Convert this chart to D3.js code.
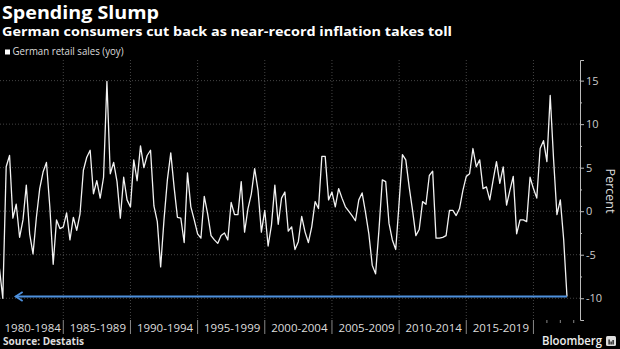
<!DOCTYPE html>
<html>
<head>
<meta charset="utf-8">
<script src="https://cdn.jsdelivr.net/npm/d3@7"></script>
<style>
  html, body { margin: 0; padding: 0; background: #000; }
  svg { display: block; font-family: "Open Sans", sans-serif; }
</style>
</head>
<body>
<div id="chart"></div>
<script>
// German retail sales, % change year on year, quarterly from 1980 Q2
const firstQuarter = new Date(1980, 3, 1);
const retailSales = [
         -6.6, -10.0,  5.1,
   6.4,  -0.8,   0.8, -3.0,
  -1.0,   3.0,  -2.6, -4.9,
  -0.7,   2.6,   4.5,  5.6,
   0.5,  -6.1,  -1.0, -2.0,
  -1.8,  -0.2,  -3.3, -0.7,
  -2.2,  -0.3,   4.7,  6.2,
   7.0,   2.0,   3.5,  1.5,
   3.9,  14.9,   4.3,  5.6,
   3.4,  -0.8,   3.9,  1.3,
   0.5,   5.9,   3.5,  7.5,
   5.0,   6.4,   7.0,  0.6,
  -1.2,  -6.4,  -1.0,  3.6,
   6.7,   2.8,  -0.7, -0.8,
  -3.6,   4.4,   0.5, -1.0,
  -2.6,  -3.1,   1.7, -0.3,
  -2.8,  -3.3,  -3.7, -2.8,
  -2.5,  -3.3,   1.0, -0.4,
  -0.4,   3.4,  -2.4,  0.3,
   2.0,   4.9,   2.4, -2.4,
   0.1,  -4.0,  -1.6,  3.0,
  -1.5,   1.5,   2.2, -2.3,
  -1.8,  -4.4,  -3.5, -0.6,
  -2.4,  -3.6,  -1.8,  1.1,
   0.3,   6.3,   6.3,  1.3,
   2.2,   0.5,   2.6,  1.5,
   0.5,   0.0,  -0.5, -1.1,
   1.3,   2.1,  -0.1, -2.6,
  -6.2,  -7.2,  -2.2,  3.6,
   3.4,  -1.4,  -3.3, -4.4,
   1.0,   6.5,   5.9,  2.8,
   0.1,  -2.8,  -2.1,  1.1,
   0.8,   4.1,   4.6, -3.1,
  -3.1,  -3.0,  -2.8,  0.1,
   0.1,  -0.5,   0.3,  2.4,
   4.0,   4.3,   7.2,  5.1,
   5.9,   2.6,   2.8,  1.3,
   3.6,   5.7,   3.2,  5.1,
   0.7,   2.4,   4.0, -2.6,
  -1.0,  -1.0,  -1.2,  3.9,
   2.6,   1.5,   7.2,  8.1,
   5.7,  13.3,   6.0, -0.4,
   1.3,  -3.2,  -9.8
];

const periodStarts = [1980, 1985, 1990, 1995, 2000, 2005, 2010, 2015];
const periodLabels = ["1980-1984", "1985-1989", "1990-1994", "1995-1999",
                      "2000-2004", "2005-2009", "2010-2014", "2015-2019"];
const yearTicks = [2021, 2022, 2023];
const yMajorTicks = [-10, -5, 0, 5, 10, 15];
const yMinorTicks = [-7.5, -2.5, 2.5, 7.5, 12.5];
const arrowTip = new Date(1981, 5, 15);

const W = 620, H = 349;
const plot = { left: 0, right: 580, top: 60, bottom: 320 };

const data = retailSales.map((v, k) => ({
  date: d3.timeMonth.offset(firstQuarter, 3 * k),
  value: v
}));

const x = d3.scaleTime()
  .domain([new Date(1980, 3, 16), new Date(2023, 5, 20)])
  .range([plot.left, plot.right]);
const y = d3.scaleLinear()
  .domain([-12.5, 17.37])
  .range([plot.bottom, plot.top]);

const svg = d3.select("#chart").append("svg")
  .attr("width", W)
  .attr("height", H);

svg.append("rect").attr("width", W).attr("height", H).attr("fill", "#000");

// squeeze a text element into a given width without touching its height
function fit(text, width) {
  text.attr("textLength", width).attr("lengthAdjust", "spacingAndGlyphs");
}

// titles
fit(svg.append("text")
  .attr("x", 2).attr("y", 19)
  .attr("font-size", 18.5).attr("font-weight", 700)
  .attr("fill", "#fff")
  .text("Spending Slump"), 157);

fit(svg.append("text")
  .attr("x", 2).attr("y", 35.5)
  .attr("font-size", 13).attr("font-weight", 700)
  .attr("fill", "#fff")
  .text("German consumers cut back as near-record inflation takes toll"), 450);

// legend
svg.append("rect")
  .attr("x", 5).attr("y", 49.5)
  .attr("width", 5).attr("height", 5)
  .attr("fill", "#fff");
fit(svg.append("text")
  .attr("x", 12.5).attr("y", 55)
  .attr("font-size", 10)
  .attr("fill", "#ddd")
  .text("German retail sales (yoy)"), 111);

// gridlines
const grid = svg.append("g")
  .attr("stroke", "#555")
  .attr("stroke-width", 0.8)
  .attr("stroke-dasharray", "1,2");

grid.selectAll(".vgrid")
  .data(periodStarts.slice(1).concat([2020]))
  .enter().append("line")
  .attr("x1", d => x(new Date(d, 0, 1)))
  .attr("x2", d => x(new Date(d, 0, 1)))
  .attr("y1", plot.top).attr("y2", plot.bottom);

grid.selectAll(".hgrid")
  .data(yMajorTicks)
  .enter().append("line")
  .attr("x1", plot.left).attr("x2", plot.right)
  .attr("y1", d => y(d)).attr("y2", d => y(d));

// series line
svg.append("clipPath").attr("id", "plotclip")
  .append("rect")
  .attr("x", plot.left).attr("y", plot.top)
  .attr("width", plot.right - plot.left)
  .attr("height", plot.bottom - plot.top);

const line = d3.line()
  .x(d => x(d.date))
  .y(d => y(d.value));

svg.append("path")
  .datum(data)
  .attr("clip-path", "url(#plotclip)")
  .attr("fill", "none")
  .attr("stroke", "#f2f2f2")
  .attr("stroke-width", 1.3)
  .attr("stroke-linejoin", "round")
  .attr("d", line);

// arrow back to the early-80s low
const last = data[data.length - 1];
const ay = y(last.value);
const arrow = svg.append("g")
  .attr("stroke", "#4d90dd")
  .attr("stroke-width", 1.8)
  .attr("fill", "none");
arrow.append("line")
  .attr("x1", x(last.date)).attr("x2", x(arrowTip))
  .attr("y1", ay).attr("y2", ay);
arrow.append("path")
  .attr("d", "M" + (x(arrowTip) + 7) + "," + (ay - 4.5) +
             "L" + x(arrowTip) + "," + ay +
             "L" + (x(arrowTip) + 7) + "," + (ay + 4.5));

// right axis
const yAxis = svg.append("g")
  .attr("transform", "translate(" + plot.right + ",0)")
  .call(d3.axisRight(y)
    .tickValues(yMajorTicks)
    .tickSize(4)
    .tickPadding(2)
    .tickFormat(d => String(d)));
yAxis.select(".domain").attr("stroke", "#bbb");
yAxis.selectAll(".tick line").attr("stroke", "#bbb");
yAxis.selectAll(".tick text")
  .attr("fill", "#ccc")
  .attr("font-size", 11)
  .attr("font-family", "Open Sans, sans-serif");

const yMinor = svg.append("g")
  .attr("transform", "translate(" + plot.right + ",0)")
  .call(d3.axisRight(y)
    .tickValues(yMinorTicks)
    .tickSize(2)
    .tickFormat(""));
yMinor.select(".domain").remove();
yMinor.selectAll(".tick line").attr("stroke", "#bbb");

svg.append("text")
  .attr("transform", "translate(606,191) rotate(90)")
  .attr("text-anchor", "middle")
  .attr("font-size", 12.5)
  .attr("fill", "#ddd")
  .text("Percent");

// time band: period separators, labels, yearly ticks at the end
const band = svg.append("g");
band.selectAll(".sep")
  .data(periodStarts.slice(1).concat([2020]))
  .enter().append("line")
  .attr("x1", d => x(new Date(d, 0, 1)))
  .attr("x2", d => x(new Date(d, 0, 1)))
  .attr("y1", plot.bottom).attr("y2", plot.bottom + 14)
  .attr("stroke", "#888");

band.selectAll(".ytick")
  .data(yearTicks)
  .enter().append("line")
  .attr("x1", d => x(new Date(d, 0, 1)))
  .attr("x2", d => x(new Date(d, 0, 1)))
  .attr("y1", plot.bottom).attr("y2", plot.bottom + 3)
  .attr("stroke", "#888");

band.selectAll(".plabel")
  .data(periodStarts)
  .enter().append("text")
  .attr("x", d => (Math.max(0, x(new Date(d, 0, 1))) + x(new Date(d + 5, 0, 1))) / 2 + 1)
  .attr("y", plot.bottom + 11.5)
  .attr("text-anchor", "middle")
  .attr("font-size", 11.5)
  .attr("fill", "#ddd")
  .text((d, i) => periodLabels[i]);

// footer
fit(svg.append("text")
  .attr("x", 3).attr("y", 345)
  .attr("font-size", 10.5).attr("font-weight", 700)
  .attr("fill", "#ddd")
  .text("Source: Destatis"), 81);

fit(svg.append("text")
  .attr("x", 542).attr("y", 345)
  .attr("font-size", 12).attr("font-weight", 600)
  .attr("fill", "#eee")
  .text("Bloomberg"), 60);

const logo = svg.append("g").attr("transform", "translate(606,336)");
logo.append("rect")
  .attr("width", 10).attr("height", 10).attr("rx", 1.5)
  .attr("fill", "#ddd");
logo.selectAll(".bar")
  .data([[2.5, 5], [4.5, 3], [6.5, 4.5]])
  .enter().append("rect")
  .attr("x", d => d[0]).attr("y", d => 8.5 - d[1])
  .attr("width", 1.2).attr("height", d => d[1])
  .attr("fill", "#000");
</script>
</body>
</html>
